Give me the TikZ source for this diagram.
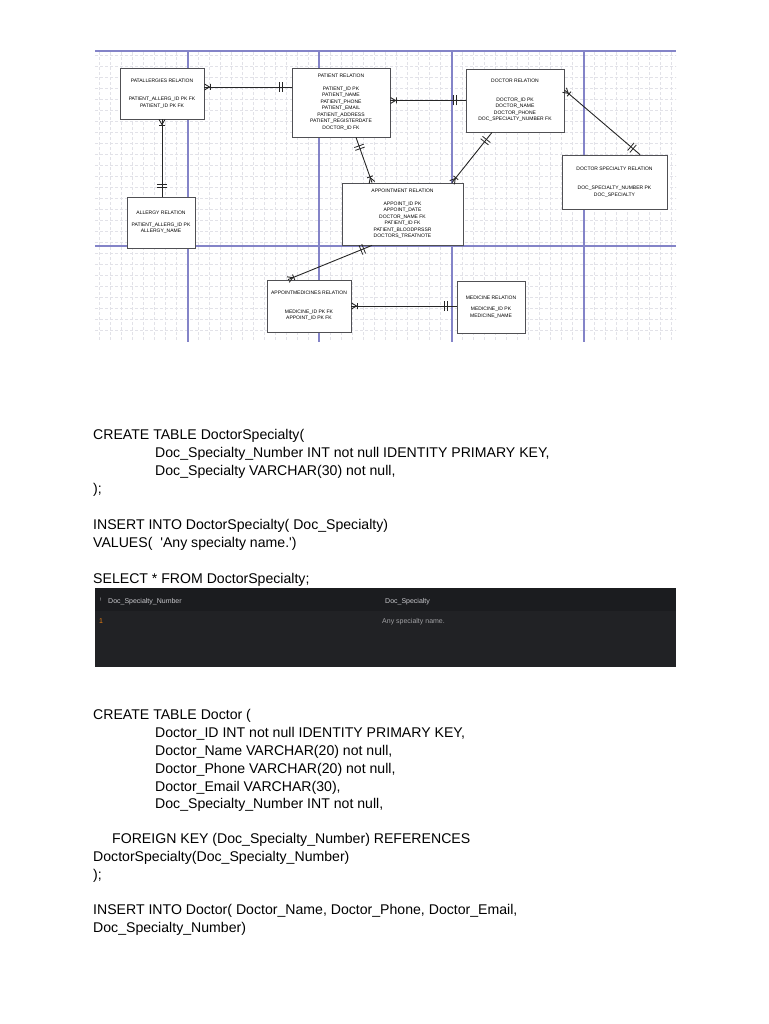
\documentclass[tikz,border=0pt]{standalone}
\usepackage{fontspec}
\setmainfont{Liberation Sans}
\newfontfamily\sqlfont{Liberation Sans}
\usetikzlibrary{decorations.markings}
\definecolor{gridblue}{RGB}{132,132,200}
\definecolor{gridgray}{RGB}{226,226,232}
\definecolor{boxline}{RGB}{80,80,84}
\definecolor{darkhead}{RGB}{27,28,31}
\definecolor{darkbody}{RGB}{33,34,37}
\definecolor{celltext}{RGB}{200,200,204}
\tikzset{%
  entity/.style={draw=boxline,fill=white,line width=0.8pt,align=center,
    inner sep=0pt,font=\fontsize{5}{6.5}\selectfont},
  rel/.style={line width=0.9pt,draw=black!85},
  one start/.style={postaction={decorate,decoration={markings,
    mark=at position 9pt with {\draw[line width=0.8pt] (0pt,-5pt) -- (0pt,5pt) (3pt,-5pt) -- (3pt,5pt);}}}},
  one end/.style={postaction={decorate,decoration={markings,
    mark=at position -9pt with {\draw[line width=0.8pt] (0pt,-5pt) -- (0pt,5pt) (-3pt,-5pt) -- (-3pt,5pt);}}}},
  many start/.style={postaction={decorate,decoration={markings,
    mark=at position 0.1pt with {\draw[line width=0.9pt] (0pt,3pt) -- (5pt,0pt) -- (0pt,-3pt) (6pt,-3pt) -- (6pt,3pt);}}}},
  many end/.style={postaction={decorate,decoration={markings,
    mark=at position -0.1pt with {\draw[line width=0.9pt] (0pt,3pt) -- (-5pt,0pt) -- (0pt,-3pt) (-6pt,-3pt) -- (-6pt,3pt);}}}},
  sql/.style={anchor=base west,inner sep=0pt,font=\sqlfont\fontsize{14.1}{18}\selectfont},
  cell/.style={anchor=base west,inner sep=0pt,text=celltext,font=\fontsize{7}{8}\selectfont}
}
\begin{document}
\begin{tikzpicture}[x=1pt,y=-1pt]
    \useasboundingbox (0,0) rectangle (768,1024);

    % grid behind the ER diagram
    \begin{scope}
        \clip (95,51) rectangle (676,340);
        \draw[gridgray,densely dashed,line width=0.4pt,xstep=11pt,ystep=11pt] (45,4) grid (728,390);
    \end{scope}
    \draw[gridblue,line width=1.3pt] (95,51) -- (676,51);
    \draw[gridblue,line width=1.3pt] (95,246) -- (676,246);
    \draw[gridblue,line width=1.3pt] (188,51) -- (188,342);
    \draw[gridblue,line width=1.3pt] (319,51) -- (319,342);
    \draw[gridblue,line width=1.3pt] (452,51) -- (452,342);
    \draw[gridblue,line width=1.3pt] (584,51) -- (584,342);

    % entities
    \node[entity,minimum width=84pt,minimum height=51pt] (patall) at (162,93.5)
        {PATALLERGIES RELATION\\[12pt] PATIENT\_ALLERG\_ID PK FK\\ PATIENT\_ID PK FK};
    \node[entity,minimum width=98pt,minimum height=69pt] (patient) at (341,102.5)
        {PATIENT RELATION\\[6pt] PATIENT\_ID PK\\ PATIENT\_NAME\\ PATIENT\_PHONE\\ PATIENT\_EMAIL\\
         PATIENT\_ADDRESS\\ PATIENT\_REGISTERDATE\\ DOCTOR\_ID FK};
    \node[entity,minimum width=98pt,minimum height=63pt] (doctor) at (515,100.5)
        {DOCTOR RELATION\\[12pt] DOCTOR\_ID PK\\ DOCTOR\_NAME\\ DOCTOR\_PHONE\\ DOC\_SPECIALTY\_NUMBER FK};
    \node[entity,minimum width=105pt,minimum height=54pt] (docspec) at (614.5,182)
        {DOCTOR SPECIALTY RELATION\\[13pt] DOC\_SPECIALTY\_NUMBER PK\\ DOC\_SPECIALTY};
    \node[entity,minimum width=121pt,minimum height=62pt] (appoint) at (402.5,214)
        {APPOINTMENT RELATION\\[6pt] APPOINT\_ID PK\\ APPOINT\_DATE\\ DOCTOR\_NAME FK\\ PATIENT\_ID FK\\
         PATIENT\_BLOODPRSSR\\ DOCTORS\_TREATNOTE};
    \node[entity,minimum width=68pt,minimum height=51pt] (allergy) at (161,222.5)
        {ALLERGY RELATION\\[5pt] PATIENT\_ALLERG\_ID PK\\ ALLERGY\_NAME};
    \node[entity,minimum width=84pt,minimum height=52pt] (apmed) at (309,306)
        {APPOINTMEDICINES RELATION\\[12pt] MEDICINE\_ID PK FK\\ APPOINT\_ID PK FK};
    \node[entity,minimum width=68pt,minimum height=52pt] (medicine) at (491,307)
        {MEDICINE RELATION\\[5pt] MEDICINE\_ID PK\\ MEDICINE\_NAME};

    % relationships
    \coordinate (pa1) at ([yshift=6.5pt]patall.east);
    \draw[rel,many start,one end] (pa1) -- (pa1 -| patient.west);
    \draw[rel,many start,one end] (patall.south) -- (patall.south |- allergy.north);
    \draw[rel,many start,one end] (patient.east |- doctor.west) -- (doctor.west);
    \draw[rel,one start,many end] ([xshift=15pt]patient.south) -- ([xshift=-30.5pt]appoint.north);
    \draw[rel,one start,many end] ([xshift=-23pt]doctor.south) -- ([xshift=49.5pt]appoint.north);
    \draw[rel,many start,one end] ([yshift=10.5pt]doctor.east) -- ([xshift=25.5pt]docspec.north);
    \draw[rel,one start,many end] ([xshift=-30.5pt]appoint.south) -- ([xshift=-21pt]apmed.north);
    \draw[rel,many start,one end] (apmed.east) -- (apmed.east -| medicine.west);

    % first script
    \node[sql] (a1) at (93,439) {CREATE TABLE DoctorSpecialty(};
    \node[sql] (a2) at (155,457) {Doc\_Specialty\_Number INT not null IDENTITY PRIMARY KEY,};
    \node[sql] (a3) at (155,475) {Doc\_Specialty VARCHAR(30) not null,};
    \node[sql] (a4) at (93,493) {);};
    \node[sql] (b1) at (93,529) {INSERT INTO DoctorSpecialty( Doc\_Specialty)};
    \node[sql] (b2) at (93,547) {VALUES(\ \ 'Any specialty name.')};
    \node[sql] (c1) at (93,583) {SELECT * FROM DoctorSpecialty;};

    % result grid
    \fill[darkbody] (95,588) rectangle (676,667);
    \fill[darkhead] (95,588) rectangle (676,611);
    \node[cell,font=\fontsize{5}{6}\selectfont] (hmark) at (100,601) {!};
    \node[cell] (h1) at (108,603) {Doc\_Specialty\_Number};
    \node[cell] (h2) at (385,603) {Doc\_Specialty};
    \node[cell,text=orange!70!brown] (r1) at (99,623) {1};
    \node[cell,text=celltext!80!black] (r2) at (382,623) {Any specialty name.};

    % second script
    \node[sql] (d1) at (93,719) {CREATE TABLE Doctor (};
    \node[sql] (d2) at (155,737) {Doctor\_ID INT not null IDENTITY PRIMARY KEY,};
    \node[sql] (d3) at (155,755) {Doctor\_Name VARCHAR(20) not null,};
    \node[sql] (d4) at (155,773) {Doctor\_Phone VARCHAR(20) not null,};
    \node[sql] (d5) at (155,791) {Doctor\_Email VARCHAR(30),};
    \node[sql] (d6) at (155,808) {Doc\_Specialty\_Number INT not null,};
    \node[sql] (e1) at (112,843) {FOREIGN KEY (Doc\_Specialty\_Number) REFERENCES};
    \node[sql] (e2) at (93,861) {DoctorSpecialty(Doc\_Specialty\_Number)};
    \node[sql] (e3) at (93,879) {);};
    \node[sql] (f1) at (93,914) {INSERT INTO Doctor( Doctor\_Name, Doctor\_Phone, Doctor\_Email,};
    \node[sql] (f2) at (93,932) {Doc\_Specialty\_Number)};

\end{tikzpicture}
\end{document}
